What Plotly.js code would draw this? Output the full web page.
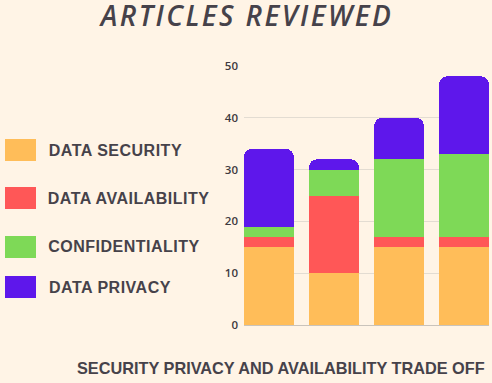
<!DOCTYPE html>
<html>
<head>
<meta charset="utf-8">
<script src="https://cdn.plot.ly/plotly-3.0.1.min.js"></script>
<style>
  html, body { margin: 0; padding: 0; background: #FFF4E6; }
  #chart { width: 492px; height: 383px; }
  #chart .gtitle { letter-spacing: 2.4px; }
  #chart .legend-label .annotation-text { letter-spacing: 0.5px; }
</style>
</head>
<body>
<div id="chart"></div>
<script>
const categories = ["A", "B", "C", "D"];
const seriesNames = ["DATA SECURITY", "DATA AVAILABILITY", "CONFIDENTIALITY", "DATA PRIVACY"];
const dataSecurity = [15, 10, 15, 15];
const dataAvailability = [2, 15, 2, 2];
const confidentiality = [2, 5, 15, 16];
const dataPrivacy = [15, 2, 8, 15];
const seriesColors = ["#FFBD59", "#FF5757", "#7ED957", "#5E17EB"];
const yTicks = [0, 10, 20, 30, 40, 50];
const titleText = "ARTICLES REVIEWED";
const footerText = "SECURITY PRIVACY AND AVAILABILITY TRADE OFF";

const seriesValues = [dataSecurity, dataAvailability, confidentiality, dataPrivacy];
const traces = seriesValues.map((vals, i) => ({
  type: "bar",
  name: seriesNames[i],
  x: categories,
  y: vals,
  marker: { color: seriesColors[i], line: { width: 0 } },
  width: 0.766,
  hoverinfo: "skip",
  showlegend: false
}));

const legendY = [150, 198, 247, 287];
const H = 383, W = 492;
const shapes = [];
const annotations = [];
seriesNames.forEach((n, i) => {
  const cy = legendY[i];
  shapes.push({
    type: "rect", xref: "paper", yref: "paper",
    x0: (5 - 244) / 245, x1: (36 - 244) / 245,
    y0: (325 - (cy + 11)) / 259, y1: (325 - (cy - 11)) / 259,
    fillcolor: seriesColors[i], line: { width: 0 }
  });
  annotations.push({
    xref: "paper", yref: "paper",
    x: (50 - 244) / 245, y: (325 - cy) / 259,
    xanchor: "left", yanchor: "middle",
    text: n, showarrow: false,
    font: { family: "Liberation Sans", size: 16, weight: "bold", color: "#46424A" }
  });
});
annotations.push({
  xref: "paper", yref: "paper",
  x: (487 - 244) / 245, y: (325 - 368) / 259,
  xanchor: "right", yanchor: "middle",
  text: footerText, showarrow: false,
  font: { family: "Liberation Sans", size: 16.3, weight: "bold", color: "#46424A" }
});

const layout = {
  width: W, height: H,
  paper_bgcolor: "#FFF4E6",
  plot_bgcolor: "#FFF4E6",
  margin: { l: 244, r: 3, t: 66, b: 58, pad: 0 },
  barmode: "stack",
  barcornerradius: 8,
  bargap: 0.2,
  showlegend: false,
  title: {
    text: titleText,
    x: 247 / W, xanchor: "center",
    y: 1 - 16 / H, yanchor: "middle",
    font: { family: "Open Sans", size: 28, weight: 600, style: "italic", color: "#46424A" }
  },
  xaxis: {
    range: [-0.383, 3.383],
    showticklabels: false,
    showgrid: false,
    zeroline: false,
    showline: true,
    linecolor: "#C9C3BB",
    linewidth: 1,
    ticks: "",
    fixedrange: true
  },
  yaxis: {
    range: [0, 50],
    tickvals: yTicks,
    ticktext: yTicks.map(String),
    showgrid: true,
    gridcolor: "#E3DCD2",
    gridwidth: 1,
    zeroline: false,
    showline: false,
    ticks: "",
    ticklabelstandoff: 5,
    tickfont: { family: "Open Sans", size: 11.5, weight: 600, color: "#3E3A40" },
    fixedrange: true
  },
  shapes: shapes,
  annotations: annotations
};

Plotly.newPlot("chart", traces, layout, { displayModeBar: false, staticPlot: true }).then(gd => {
  gd.querySelectorAll(".annotation").forEach((el, i) => {
    if (i < seriesNames.length) el.classList.add("legend-label");
  });
});
</script>
</body>
</html>
